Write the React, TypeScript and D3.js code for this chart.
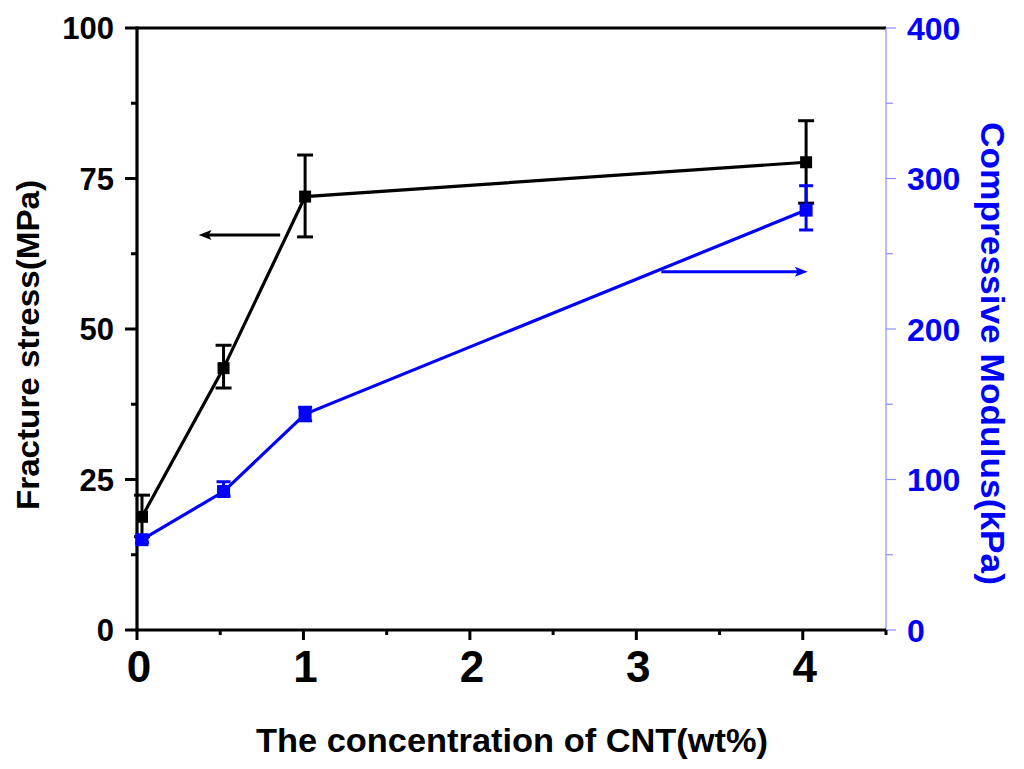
import React from 'react';
import * as d3 from 'd3';

// CNT concentration (wt%) as plotted
const cntX = [0.03, 0.52, 1.01, 4.02];

// Fracture stress (MPa), left axis
const stress = [18.8, 43.5, 72.0, 77.7];
const stressLo = [15.5, 40.2, 65.3, 70.9];
const stressHi = [22.4, 47.3, 78.9, 84.6];

// Compressive modulus (kPa), right axis
const modulus = [60, 92, 143.5, 279];
const modulusLo = [58, 89, 139, 265.8];
const modulusHi = [62, 98.5, 148, 295.2];

const xMajor = [0, 1, 2, 3, 4];
const xMinor = [0.5, 1.5, 2.5, 3.5, 4.5];
const leftMajor = [0, 25, 50, 75, 100];
const leftMinor = [12.5, 37.5, 62.5, 87.5];
const rightMajor = [0, 100, 200, 300, 400];
const rightMinor = [50, 150, 250, 350];

const W = 1024;
const H = 769;
const FONT = '"Liberation Sans", Arial, sans-serif';
const BLUE = '#0000ff';
const AXIS_BLUE = '#8c8cff';

const x = d3.scaleLinear().domain([0, 4.5]).range([137, 886]);
const yL = d3.scaleLinear().domain([0, 100]).range([630, 28]);
const yR = d3.scaleLinear().domain([0, 400]).range([630, 28]);

const lineL = d3.line<number>().x((_d, i) => x(cntX[i])).y(d => yL(d));
const lineR = d3.line<number>().x((_d, i) => x(cntX[i])).y(d => yR(d));

function ArrowHead({ tipX, tipY, dir, color }: { tipX: number; tipY: number; dir: number; color: string }) {
  const len = 13;
  const half = 5;
  const bx = tipX - dir * len;
  return (
    <polygon
      points={`${tipX},${tipY} ${bx},${tipY - half} ${bx + dir * 3},${tipY} ${bx},${tipY + half}`}
      fill={color}
    />
  );
}

export default function App() {
  const [x0, x1] = x.range();
  const [yBottom, yTop] = yL.range();

  const bArrowY = yL(65.6);
  const bArrowFrom = x(0.86);
  const bArrowTo = x(0.37);
  const rArrowY = yR(238);
  const rArrowFrom = x(3.15);
  const rArrowTo = x(4.03);

  return (
    <div style={{ position: 'absolute', left: 0, top: 0 }}>
      <svg width={W} height={H} viewBox={`0 0 ${W} ${H}`} style={{ display: 'block', background: '#fff' }}>
        {/* frame */}
        <line x1={x0} x2={x1} y1={yTop} y2={yTop} stroke="#000" strokeWidth={3} />
        <line x1={x1} x2={x1} y1={yTop} y2={yBottom} stroke={AXIS_BLUE} strokeWidth={1.2} />
        <line x1={x0} x2={x1} y1={yBottom} y2={yBottom} stroke="#000" strokeWidth={3.2} />
        <line x1={x0} x2={x0} y1={yTop - 1.5} y2={yBottom + 1.5} stroke="#000" strokeWidth={3.2} />

        {/* left axis ticks */}
        {leftMajor.map(v => (
          <g key={'lm' + v}>
            <line x1={x0 - 12} x2={x0} y1={yL(v)} y2={yL(v)} stroke="#000" strokeWidth={3} />
            <text x={x0 - 23} y={yL(v)} dy="0.36em" textAnchor="end" fontFamily={FONT} fontWeight="bold" fontSize={31}>
              {v}
            </text>
          </g>
        ))}
        {leftMinor.map(v => (
          <line key={'ln' + v} x1={x0 - 6} x2={x0} y1={yL(v)} y2={yL(v)} stroke="#000" strokeWidth={3} />
        ))}

        {/* right axis ticks */}
        {rightMajor.map(v => (
          <g key={'rm' + v}>
            <line x1={x1} x2={x1 + 10} y1={yR(v)} y2={yR(v)} stroke={AXIS_BLUE} strokeWidth={1.2} />
            <text x={x1 + 21} y={yR(v)} dy="0.36em" textAnchor="start" fontFamily={FONT} fontWeight="bold" fontSize={32} fill={BLUE}>
              {v}
            </text>
          </g>
        ))}
        {rightMinor.map(v => (
          <line key={'rn' + v} x1={x1} x2={x1 + 7} y1={yR(v)} y2={yR(v)} stroke={AXIS_BLUE} strokeWidth={1.2} />
        ))}

        {/* x axis ticks */}
        {xMajor.map(v => (
          <g key={'xm' + v}>
            <line x1={x(v)} x2={x(v)} y1={yBottom} y2={yBottom + 10} stroke="#000" strokeWidth={3} />
            <text x={x(v) + 2} y={682} textAnchor="middle" fontFamily={FONT} fontWeight="bold" fontSize={44}>
              {v}
            </text>
          </g>
        ))}
        {xMinor.map(v => (
          <line key={'xn' + v} x1={x(v)} x2={x(v)} y1={yBottom} y2={yBottom + 5} stroke="#000" strokeWidth={3} />
        ))}

        {/* axis titles */}
        <text x={512} y={752} textAnchor="middle" fontFamily={FONT} fontWeight="bold" fontSize={33} textLength={512} lengthAdjust="spacingAndGlyphs">
          The concentration of CNT(wt%)
        </text>
        <text
          transform={`translate(39,${(180 + 510) / 2}) rotate(-90)`}
          textAnchor="middle"
          fontFamily={FONT}
          fontWeight="bold"
          fontSize={32}
          textLength={330}
          lengthAdjust="spacingAndGlyphs"
        >
          Fracture stress(MPa)
        </text>
        <text
          transform={`translate(981,${(122 + 585) / 2}) rotate(90)`}
          textAnchor="middle"
          fontFamily={FONT}
          fontWeight="bold"
          fontSize={34}
          fill={BLUE}
          textLength={463}
          lengthAdjust="spacingAndGlyphs"
        >
          Compressive Modulus(kPa)
        </text>

        {/* fracture stress series */}
        <path d={lineL(stress) || ''} fill="none" stroke="#000" strokeWidth={3.2} />
        {cntX.map((cx, i) => (
          <g key={'s' + i} stroke="#000" strokeWidth={3}>
            <line x1={x(cx)} x2={x(cx)} y1={yL(stressLo[i])} y2={yL(stressHi[i])} />
            <line x1={x(cx) - 8} x2={x(cx) + 8} y1={yL(stressHi[i])} y2={yL(stressHi[i])} />
            <line x1={x(cx) - 8} x2={x(cx) + 8} y1={yL(stressLo[i])} y2={yL(stressLo[i])} />
            <rect x={x(cx) - 6} y={yL(stress[i]) - 6} width={12} height={12} fill="#000" stroke="none" />
          </g>
        ))}

        {/* compressive modulus series */}
        <path d={lineR(modulus) || ''} fill="none" stroke={BLUE} strokeWidth={3.2} />
        {cntX.map((cx, i) => (
          <g key={'m' + i} stroke={BLUE} strokeWidth={3}>
            <line x1={x(cx)} x2={x(cx)} y1={yR(modulusLo[i])} y2={yR(modulusHi[i])} />
            <line x1={x(cx) - 7} x2={x(cx) + 7} y1={yR(modulusHi[i])} y2={yR(modulusHi[i])} />
            <line x1={x(cx) - 7} x2={x(cx) + 7} y1={yR(modulusLo[i])} y2={yR(modulusLo[i])} />
            <rect x={x(cx) - 6.5} y={yR(modulus[i]) - 6.5} width={13} height={13} fill={BLUE} stroke="none" />
          </g>
        ))}

        {/* axis indicator arrows */}
        <line x1={bArrowFrom} x2={bArrowTo + 8} y1={bArrowY} y2={bArrowY} stroke="#000" strokeWidth={3} />
        <ArrowHead tipX={bArrowTo} tipY={bArrowY} dir={-1} color="#000" />
        <line x1={rArrowFrom} x2={rArrowTo - 8} y1={rArrowY} y2={rArrowY} stroke={BLUE} strokeWidth={3} />
        <ArrowHead tipX={rArrowTo} tipY={rArrowY} dir={1} color={BLUE} />
      </svg>
    </div>
  );
}
